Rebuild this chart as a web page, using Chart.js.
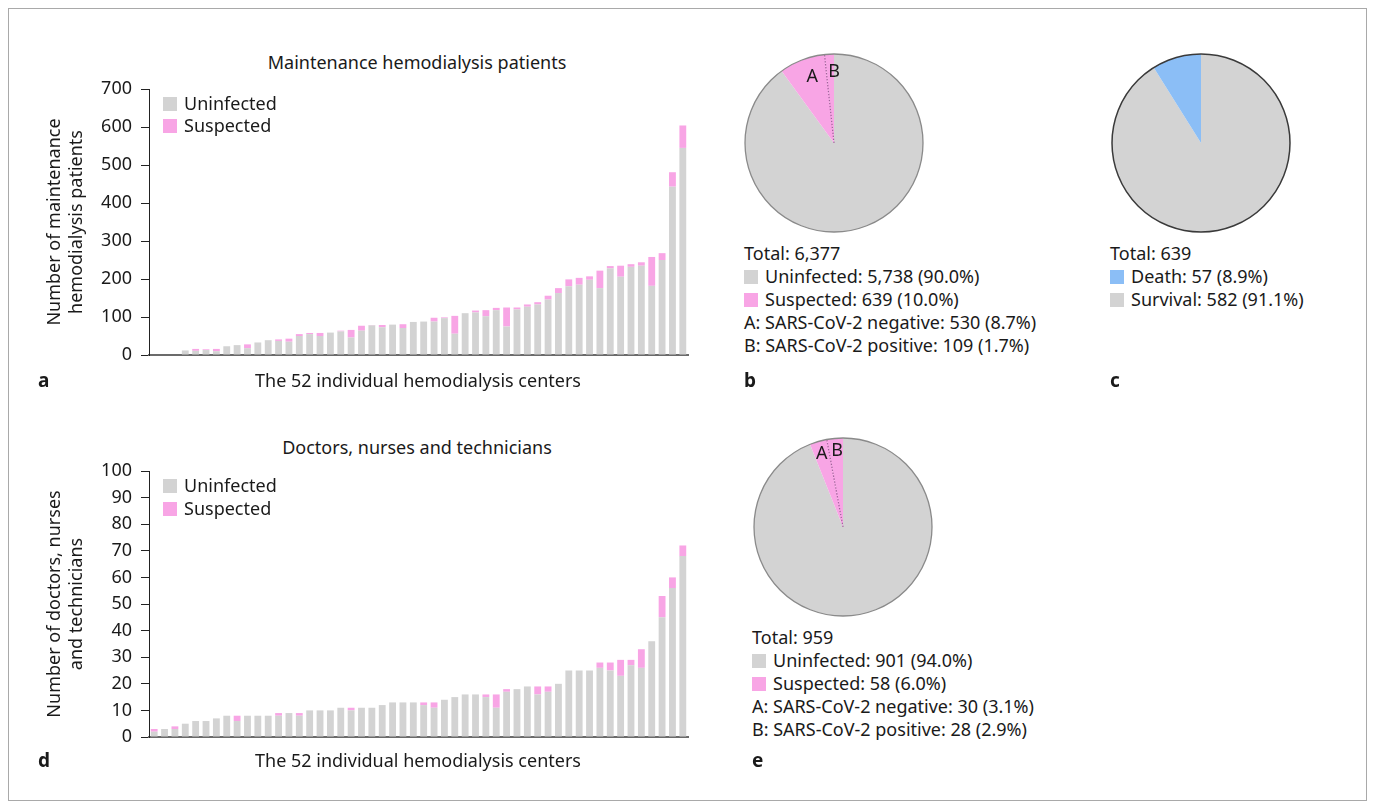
<!DOCTYPE html>
<html>
<head>
<meta charset="utf-8">
<title>Hemodialysis centers: patients and staff</title>
<script src="https://cdn.jsdelivr.net/npm/chart.js@4.4.1/dist/chart.umd.min.js"></script>
<style>
  html, body { margin: 0; padding: 0; background: #fff; }
  body {
    width: 1375px; height: 809px; position: relative; overflow: hidden;
    font-family: "Noto Sans", "Open Sans", sans-serif; font-size: 18px; color: #1a1a1a;
  }
  .frame { position: absolute; left: 8px; top: 8px; width: 1359px; height: 793px;
           border: 1px solid #a9a9a9; box-sizing: border-box; }
  canvas { position: absolute; }
  .txt { position: absolute; white-space: nowrap; line-height: 24px; height: 24px; }
  .mid { transform: translateX(-50%); }
  .panel { font-weight: bold; font-size: 19px; }
  .sw { display: inline-block; width: 14px; height: 14px; vertical-align: -1px; margin-right: 7px; }
  .block { position: absolute; white-space: nowrap; line-height: 23px; }
</style>
</head>
<body>
<div class="frame"></div>

<!-- panel a -->
<div class="txt mid" style="left:417px; top:50px;">Maintenance hemodialysis patients</div>
<canvas id="barPatients" width="670" height="310" style="left:30px; top:67px;"></canvas>
<div class="txt" style="left:163px; top:91px;"><span class="sw" id="swA1"></span>Uninfected</div>
<div class="txt" style="left:163px; top:113px;"><span class="sw" id="swA2"></span>Suspected</div>
<div class="txt mid" style="left:418px; top:368px;">The 52 individual hemodialysis centers</div>
<div class="txt panel" style="left:38px; top:368px;">a</div>

<!-- panel b -->
<canvas id="piePatients" width="190" height="190" style="left:739px; top:48px;"></canvas>
<div class="block" style="left:744px; top:242px;">
  Total: 6,377<br>
  <span class="sw" id="swB1"></span>Uninfected: 5,738 (90.0%)<br>
  <span class="sw" id="swB2"></span>Suspected: 639 (10.0%)<br>
  A: SARS-CoV-2 negative: 530 (8.7%)<br>
  B: SARS-CoV-2 positive: 109 (1.7%)
</div>
<div class="txt panel" style="left:744px; top:368px;">b</div>

<!-- panel c -->
<canvas id="pieOutcome" width="190" height="190" style="left:1106px; top:48px;"></canvas>
<div class="block" style="left:1110px; top:242px;">
  Total: 639<br>
  <span class="sw" id="swC1"></span>Death: 57 (8.9%)<br>
  <span class="sw" id="swC2"></span>Survival: 582 (91.1%)
</div>
<div class="txt panel" style="left:1110px; top:368px;">c</div>

<!-- panel d -->
<div class="txt mid" style="left:417px; top:435px;">Doctors, nurses and technicians</div>
<canvas id="barStaff" width="670" height="310" style="left:30px; top:449px;"></canvas>
<div class="txt" style="left:163px; top:473px;"><span class="sw" id="swD1"></span>Uninfected</div>
<div class="txt" style="left:163px; top:496px;"><span class="sw" id="swD2"></span>Suspected</div>
<div class="txt mid" style="left:418px; top:748px;">The 52 individual hemodialysis centers</div>
<div class="txt panel" style="left:38px; top:748px;">d</div>

<!-- panel e -->
<canvas id="pieStaff" width="190" height="190" style="left:748px; top:432px;"></canvas>
<div class="block" style="left:752px; top:626px;">
  Total: 959<br>
  <span class="sw" id="swE1"></span>Uninfected: 901 (94.0%)<br>
  <span class="sw" id="swE2"></span>Suspected: 58 (6.0%)<br>
  A: SARS-CoV-2 negative: 30 (3.1%)<br>
  B: SARS-CoV-2 positive: 28 (2.9%)
</div>
<div class="txt panel" style="left:752px; top:748px;">e</div>

<script>
// ---- data ---------------------------------------------------------------
// One entry per hemodialysis center, sorted by size.
const centerIds = Array.from({ length: 52 }, (_, i) => String(i + 1));

// Maintenance hemodialysis patients per center
const patientsUninfected = [
  0, 0, 0, 12, 11, 13, 10, 23, 26, 18,
  33, 39, 37, 35, 50, 55, 50, 59, 62, 46,
  64, 78, 73, 80, 71, 87, 88, 88, 97, 56,
  110, 112, 102, 118, 75, 120, 127, 133, 146, 163,
  181, 185, 198, 176, 228, 206, 232, 235, 182, 250,
  443, 545
];
const patientsSuspected = [
  0, 0, 0, 0, 5, 2, 6, 0, 0, 10,
  0, 0, 4, 8, 5, 3, 8, 0, 2, 20,
  13, 1, 6, 0, 10, 0, 0, 10, 2, 47,
  0, 5, 16, 6, 50, 5, 6, 6, 10, 13,
  18, 18, 9, 46, 6, 29, 7, 9, 76, 18,
  38, 59
];

// Doctors, nurses and technicians per center
const staffUninfected = [
  2, 3, 3, 5, 6, 6, 7, 8, 6, 8,
  8, 8, 8, 9, 8, 10, 10, 10, 11, 10,
  11, 11, 12, 13, 13, 13, 12, 11, 14, 15,
  16, 16, 15, 11, 17, 18, 19, 16, 17, 20,
  25, 25, 25, 26, 25, 23, 27, 26, 36, 45,
  56, 68
];
const staffSuspected = [
  1, 0, 1, 0, 0, 0, 0, 0, 2, 0,
  0, 0, 1, 0, 1, 0, 0, 0, 0, 1,
  0, 0, 0, 0, 0, 0, 1, 2, 0, 0,
  0, 0, 1, 5, 1, 0, 0, 3, 2, 0,
  0, 0, 0, 2, 3, 6, 2, 7, 0, 8,
  4, 4
];

// Pie totals (slices run clockwise from 12 o'clock)
const patientSliceLabels = ['Uninfected', 'SARS-CoV-2 negative', 'SARS-CoV-2 positive'];
const patientSlices = [5738, 530, 109];
const outcomeSliceLabels = ['Survival', 'Death'];
const outcomeSlices = [582, 57];
const staffSliceLabels = ['Uninfected', 'SARS-CoV-2 negative', 'SARS-CoV-2 positive'];
const staffSlices = [901, 30, 28];

const patientTicks = { min: 0, max: 700, step: 100 };
const staffTicks = { min: 0, max: 100, step: 10 };

// ---- styling ------------------------------------------------------------
const GREY = '#d3d3d3';
const PINK = '#f8a5e5';
const BLUE = '#8bbef6';
const INK = '#1a1a1a';

Chart.defaults.font.family = '"Noto Sans", "Open Sans", sans-serif';
Chart.defaults.font.size = 18;
Chart.defaults.color = INK;

[['swA1', GREY], ['swA2', PINK], ['swB1', GREY], ['swB2', PINK], ['swC1', BLUE], ['swC2', GREY],
 ['swD1', GREY], ['swD2', PINK], ['swE1', GREY], ['swE2', PINK]].forEach(([id, c]) => {
  document.getElementById(id).style.background = c;
});

function barChart(canvasId, uninfected, suspected, range, yTitle) {
  return new Chart(document.getElementById(canvasId), {
    type: 'bar',
    data: {
      labels: centerIds,
      datasets: [
        { label: 'Uninfected', data: uninfected, backgroundColor: GREY, borderWidth: 0 },
        { label: 'Suspected', data: suspected, backgroundColor: PINK, borderWidth: 0 }
      ]
    },
    options: {
      responsive: false,
      animation: false,
      layout: { padding: { top: 22, right: 12, bottom: 22, left: 0 } },
      datasets: { bar: { barPercentage: 0.66, categoryPercentage: 1 } },
      plugins: { legend: { display: false }, tooltip: { enabled: false } },
      scales: {
        x: {
          stacked: true,
          ticks: { display: false },
          grid: { display: false },
          border: { display: true, color: '#6b6b6b', width: 2 },
          afterFit: s => { s.height = 0; }
        },
        y: {
          stacked: true,
          min: range.min, max: range.max,
          ticks: { stepSize: range.step, padding: 9, color: INK, font: { size: 18 } },
          grid: { drawOnChartArea: false, drawTicks: true, tickLength: 8, color: '#222' },
          border: { display: true, color: '#222', width: 1 },
          title: {
            display: true, text: yTitle, color: INK,
            font: { size: 18, lineHeight: 1.2 },
            padding: { top: 14, bottom: 0 }
          },
          afterFit: s => { s.width = 119; }
        }
      }
    }
  });
}

barChart('barPatients', patientsUninfected, patientsSuspected, patientTicks,
  ['Number of maintenance', 'hemodialysis patients']);
barChart('barStaff', staffUninfected, staffSuspected, staffTicks,
  ['Number of doctors, nurses', 'and technicians']);

// Outline, dotted A/B divider and slice letters for the pies.
const pieDecor = {
  id: 'pieDecor',
  afterDatasetsDraw(chart, args, opts) {
    const arcs = chart.getDatasetMeta(0).data;
    if (!arcs.length) return;
    const { x, y, outerRadius } = arcs[0].getProps(['x', 'y', 'outerRadius'], true);
    const ctx = chart.ctx;
    ctx.save();
    if (opts.divider != null) {
      const a = arcs[opts.divider].startAngle;
      ctx.beginPath();
      ctx.setLineDash([1.4, 1.6]);
      ctx.strokeStyle = '#a0609a';
      ctx.lineWidth = 1.2;
      ctx.moveTo(x, y);
      ctx.lineTo(x + outerRadius * Math.cos(a), y + outerRadius * Math.sin(a));
      ctx.stroke();
      ctx.setLineDash([]);
    }
    ctx.beginPath();
    ctx.arc(x, y, outerRadius, 0, Math.PI * 2);
    ctx.strokeStyle = opts.outline || '#888';
    ctx.lineWidth = opts.outlineWidth || 1.2;
    ctx.stroke();
    ctx.fillStyle = INK;
    ctx.font = '18px "Noto Sans", "Open Sans", sans-serif';
    ctx.textAlign = 'center';
    ctx.textBaseline = 'middle';
    (opts.marks || []).forEach(m => {
      const arc = arcs[m.index];
      const mid = (arc.startAngle + arc.endAngle) / 2;
      const r = outerRadius * m.frac;
      ctx.fillText(m.text, x + r * Math.cos(mid) + (m.dx || 0), y + r * Math.sin(mid));
    });
    ctx.restore();
  }
};

function pieChart(canvasId, labels, values, colors, decor) {
  return new Chart(document.getElementById(canvasId), {
    type: 'pie',
    data: { labels, datasets: [{ data: values, backgroundColor: colors, borderWidth: 0 }] },
    options: {
      responsive: false,
      animation: false,
      layout: { padding: 6 },
      plugins: { legend: { display: false }, tooltip: { enabled: false }, pieDecor: decor }
    },
    plugins: [pieDecor]
  });
}

pieChart('piePatients', patientSliceLabels, patientSlices, [GREY, PINK, PINK], {
  outline: '#8a8a8a', outlineWidth: 1.3, divider: 2,
  marks: [{ index: 1, text: 'A', frac: 0.8, dx: 4 }, { index: 2, text: 'B', frac: 0.8, dx: 4 }]
});
pieChart('pieOutcome', outcomeSliceLabels, outcomeSlices, [GREY, BLUE], {
  outline: '#3a3a3a', outlineWidth: 1.5
});
pieChart('pieStaff', staffSliceLabels, staffSlices, [GREY, PINK, PINK], {
  outline: '#8a8a8a', outlineWidth: 1.3, divider: 2,
  marks: [{ index: 1, text: 'A', frac: 0.86, dx: 0 }, { index: 2, text: 'B', frac: 0.86, dx: 1 }]
});
</script>
</body>
</html>
